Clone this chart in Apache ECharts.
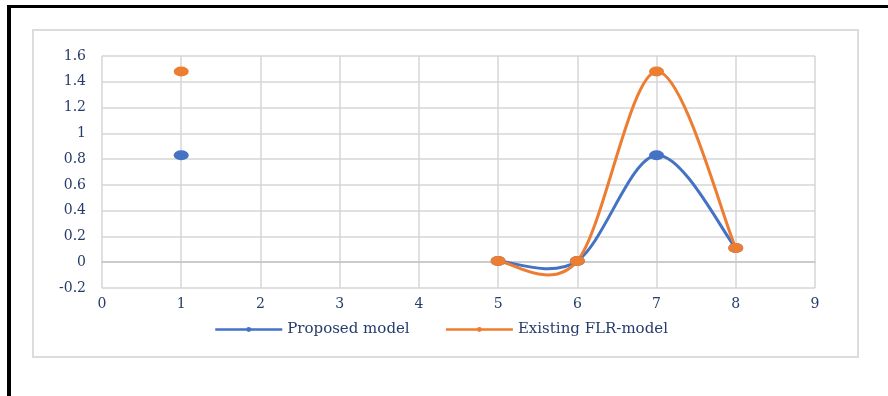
<!DOCTYPE html>
<html>
<head>
<meta charset="utf-8">
<script src="https://cdn.jsdelivr.net/npm/echarts@6/dist/echarts.min.js"></script>
<style>
  html, body { margin: 0; padding: 0; background: #ffffff; }
  #chart { width: 888px; height: 396px; }
</style>
</head>
<body>
<div id="chart"></div>
<script>
// x positions and the two model series (gaps where no value exists)
const xValues = [1, 2, 3, 4, 5, 6, 7, 8];
const proposedModel = [0.83, null, null, null, 0.01, 0.01, 0.83, 0.11];
const existingFLR = [1.48, null, null, null, 0.01, 0.01, 1.48, 0.11];
const seriesNames = ['Proposed model', 'Existing FLR-model'];

const BLUE = '#4472c4';
const ORANGE = '#ed7d31';
const textColor = '#263b6b';
const gridColor = '#d6d6d6';
const fontFamily = 'DejaVu Serif, Liberation Serif, serif';

function pairs(values) {
  return xValues.map((x, i) => [x, values[i] == null ? '-' : values[i]]);
}

// Catmull-Rom style smoothing (tension 1/6) between consecutive valid points,
// computed in pixel space from the axis scales.
function smoothCurve(values, color) {
  return function (params, api) {
    const i = params.dataIndex;
    const has = k => k >= 0 && k < values.length && values[k] != null;
    if (!has(i) || !has(i + 1)) return null;
    const p = k => api.coord([xValues[k], values[k]]);
    const p1 = p(i), p2 = p(i + 1);
    const p0 = has(i - 1) ? p(i - 1) : p1;
    const p3 = has(i + 2) ? p(i + 2) : p2;
    const t1 = [(p2[0] - p0[0]) / 6, (p2[1] - p0[1]) / 6];
    const t2 = [(p3[0] - p1[0]) / 6, (p3[1] - p1[1]) / 6];
    return {
      type: 'bezierCurve',
      shape: {
        x1: p1[0], y1: p1[1],
        cpx1: p1[0] + t1[0], cpy1: p1[1] + t1[1],
        cpx2: p2[0] - t2[0], cpy2: p2[1] - t2[1],
        x2: p2[0], y2: p2[1]
      },
      style: { fill: 'none', stroke: color, lineWidth: 3, lineCap: 'round' },
      silent: true
    };
  };
}

function curveSeries(values, color) {
  return {
    type: 'custom',
    data: pairs(values),
    encode: { x: 0, y: 1 },
    renderItem: smoothCurve(values, color),
    silent: true,
    tooltip: { show: false }
  };
}

function markerSeries(name, values, color) {
  return {
    name,
    type: 'line',
    data: pairs(values),
    symbol: 'circle',
    symbolSize: [15, 10],
    color,
    lineStyle: { width: 3, color, opacity: 0 },
    itemStyle: { color }
  };
}

const chart = echarts.init(document.getElementById('chart'), null, { renderer: 'canvas' });

chart.setOption({
  animation: false,
  backgroundColor: '#ffffff',
  graphic: [
    // frame around the whole figure
    { type: 'rect', shape: { x: 7, y: 5, width: 881, height: 3 }, style: { fill: '#000000' }, silent: true },
    { type: 'rect', shape: { x: 7, y: 5, width: 4, height: 391 }, style: { fill: '#000000' }, silent: true },
    // chart area border
    { type: 'rect', shape: { x: 33, y: 30, width: 825, height: 327 },
      style: { fill: 'none', stroke: '#dcdcdc', lineWidth: 2 }, silent: true }
  ],
  grid: { left: 102, right: 73, top: 56, bottom: 108, containLabel: false },
  xAxis: {
    type: 'value',
    min: 0, max: 9, interval: 1,
    axisLine: { show: true, onZero: true, lineStyle: { color: '#c4c4c4', width: 1.5 } },
    axisTick: { show: false },
    axisLabel: { color: textColor, fontFamily, fontSize: 14, margin: 9 },
    splitLine: { show: true, lineStyle: { color: gridColor, width: 1.5 } }
  },
  yAxis: {
    type: 'value',
    min: -0.2, max: 1.6, interval: 0.2,
    axisLine: { show: false },
    axisTick: { show: false },
    axisLabel: { color: textColor, fontFamily, fontSize: 14, margin: 16 },
    splitLine: { show: true, lineStyle: { color: gridColor, width: 1.5 } }
  },
  legend: {
    bottom: 59,
    left: 214,
    padding: 0,
    itemWidth: 67,
    itemHeight: 6,
    itemGap: 35,
    textStyle: { color: textColor, fontFamily, fontSize: 15 },
    lineStyle: { width: 2.5, opacity: 1 },
    data: seriesNames
  },
  series: [
    curveSeries(proposedModel, BLUE),
    markerSeries(seriesNames[0], proposedModel, BLUE),
    curveSeries(existingFLR, ORANGE),
    markerSeries(seriesNames[1], existingFLR, ORANGE)
  ]
});
</script>
</body>
</html>
